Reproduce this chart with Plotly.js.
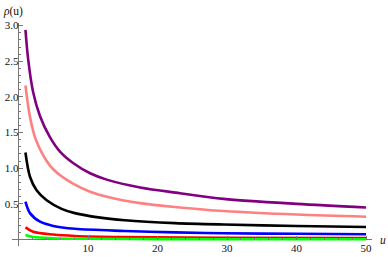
<!DOCTYPE html>
<html>
<head>
<meta charset="utf-8">
<script src="https://cdn.plot.ly/plotly-3.0.1.min.js"></script>
<style>
html,body{margin:0;padding:0;background:#fff;}
#chart{width:388px;height:257px;}
#chart svg text{font-family:'Liberation Serif','Times New Roman',serif !important;}
</style>
</head>
<body>
<div id="chart"></div>
<script>
// Values
const uPurple = [1, 1.4, 2.1, 3.1, 4.5, 6, 7.9, 10.3, 12.7, 17.5, 23.2, 29.5, 40, 50];
const rhoPurple = [2.94, 2.52, 2.07, 1.73, 1.44, 1.23, 1.07, 0.93, 0.84, 0.73, 0.65, 0.57, 0.50, 0.45];

const uPink = [1, 1.65, 2.5, 4.5, 6, 7.9, 10.3, 12.7, 17.5, 23.2, 29.5, 40, 50];
const rhoPink = [2.16, 1.72, 1.40, 1.04, 0.90, 0.78, 0.67, 0.60, 0.51, 0.45, 0.40, 0.35, 0.32];

const uBlack = [1, 1.65, 2.6, 4.05, 6.2, 8.1, 11.5, 15.3, 22.5, 29.5, 40, 50];
const rhoBlack = [1.22, 0.88, 0.69, 0.55, 0.43, 0.37, 0.31, 0.27, 0.23, 0.21, 0.19, 0.175];

const uBlue = [1, 1.65, 3.1, 5, 8.1, 15.3, 22.5, 29.5, 40, 50];
const rhoBlue = [0.53, 0.37, 0.25, 0.19, 0.15, 0.12, 0.10, 0.087, 0.08, 0.073];

const uRed = [1, 2.1, 5, 8.1, 15, 30, 50];
const rhoRed = [0.17, 0.11, 0.07, 0.05, 0.035, 0.025, 0.02];

const uGreen = [1, 2.1, 5, 10, 20, 35, 50];
const rhoGreen = [0.063, 0.035, 0.018, 0.01, 0.006, 0.004, 0.003];

const xTickVals = [10, 20, 30, 40, 50];
const xTickText = ["10", "20", "30", "40", "50"];
const yTickVals = [0.5, 1.0, 1.5, 2.0, 2.5, 3.0];
const yTickText = ["0.5", "1.0", "1.5", "2.0", "2.5", "3.0"];

const series = [
  {u: uPurple, r: rhoPurple, c: '#800080'},
  {u: uPink, r: rhoPink, c: '#ff8080'},
  {u: uBlack, r: rhoBlack, c: '#000000'},
  {u: uBlue, r: rhoBlue, c: '#0000ff'},
  {u: uRed, r: rhoRed, c: '#ff0000'},
  {u: uGreen, r: rhoGreen, c: '#00ff00'}
];

const traces = series.map(s => ({
  x: s.u, y: s.r, type: 'scatter', mode: 'lines',
  line: {color: s.c, width: 2.6, shape: 'spline', smoothing: 0.9},
  hoverinfo: 'skip', showlegend: false
}));

const FAM = 'Liberation Serif';
function mkFont(sz) { return {family: FAM, size: sz || 11, color: '#111'}; }
const axisCol = '#777';

const layout = {
  width: 388, height: 257,
  margin: {l: 12, r: 16, t: 23, b: 11, pad: 0},
  paper_bgcolor: '#fff', plot_bgcolor: '#fff',
  font: mkFont(),
  showlegend: false,
  xaxis: {
    range: [-0.935, 50.86], showgrid: false,
    zeroline: true, zerolinecolor: axisCol, zerolinewidth: 1,
    showline: false,
    tickmode: 'array', tickvals: xTickVals, ticktext: xTickText,
    ticks: 'inside', ticklen: 4, tickcolor: axisCol, tickwidth: 1,
    minor: {dtick: 2, tick0: 0, ticks: 'inside', ticklen: 2, tickcolor: axisCol, showgrid: false},
    anchor: 'free', position: 0.029,
    tickfont: mkFont(11)
  },
  yaxis: {
    range: [-0.091, 3.037], showgrid: false,
    zeroline: true, zerolinecolor: axisCol, zerolinewidth: 1,
    showline: false,
    tickmode: 'array', tickvals: yTickVals, ticktext: yTickText,
    ticks: 'inside', ticklen: 4, tickcolor: axisCol, tickwidth: 1,
    minor: {dtick: 0.1, tick0: 0, ticks: 'inside', ticklen: 2, tickcolor: axisCol, showgrid: false},
    anchor: 'free', position: 0.018,
    tickfont: mkFont(11)
  },
  annotations: [
    {text: '<i>ρ</i>(u)', xref: 'paper', yref: 'paper', x: -0.03, y: 1.0, yshift: 12,
     xanchor: 'left', yanchor: 'middle', showarrow: false, font: mkFont(11.5)},
    {text: '<i>u</i>', xref: 'paper', yref: 'paper', x: 1.0, y: 0.029, xshift: 11,
     xanchor: 'center', yanchor: 'middle', showarrow: false, font: mkFont(11.5)}
  ]
};

Plotly.newPlot('chart', traces, layout, {staticPlot: true, displayModeBar: false});
</script>
</body>
</html>
